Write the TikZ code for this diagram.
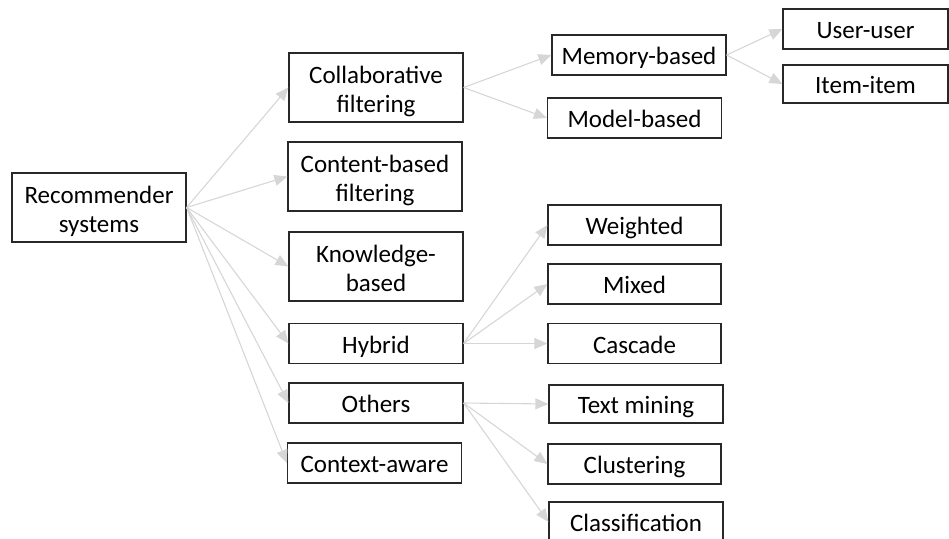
\documentclass[tikz,border=0pt]{standalone}
\usepackage{fontspec}
\setmainfont{Carlito}
\usetikzlibrary{arrows.meta}
\definecolor{edgegray}{RGB}{214,214,214}
\definecolor{boxline}{RGB}{40,40,40}
\begin{document}
\begin{tikzpicture}[x=1pt,y=-1pt,
  box/.style={draw=boxline, line width=1.2pt, fill=white, minimum height=40pt,
    minimum width=174pt, inner sep=0pt, align=center,
    text height=22pt, text depth=3pt,
    font=\fontsize{25}{29}\selectfont},
  tall/.style={box, minimum height=69pt, text height=52pt, text depth=3pt},
  link/.style={draw=edgegray, line width=1.1pt,
    -{Triangle[length=13pt,width=11pt]}}]
\useasboundingbox (0,0) rectangle (949,538);

% root
\node[tall] (rs) at (99,207.5) {Recommender\\systems};

% first level
\node[tall] (cf) at (376,87.5) {Collaborative\\filtering};
\node[tall] (cb) at (375,176.5) {Content-based\\filtering};
\node[tall] (kb) at (376,266.5) {Knowledge-\\based};
\node[box] (hy) at (376,343.5) {Hybrid};
\node[box] (ot) at (376,403) {Others};
\node[box] (ca) at (374.5,463) {Context-aware};

% collaborative filtering branch
\node[box] (mem) at (639,55) {Memory-based};
\node[box] (mod) at (634.5,118) {Model-based};
\node[box, minimum width=165pt] (uu) at (865.5,29) {User-user};
\node[box, minimum width=165pt, minimum height=38pt] (ii) at (865.5,84) {Item-item};

% hybrid branch
\node[box, minimum width=173pt] (we) at (634.5,225) {Weighted};
\node[box, minimum width=173pt] (mi) at (634.5,284) {Mixed};
\node[box, minimum width=173pt] (cs) at (634.5,343.5) {Cascade};

% others branch
\node[box, minimum height=38pt] (tm) at (636,404) {Text mining};
\node[box, minimum width=173pt] (cl) at (634.5,464) {Clustering};
\node[box] (cc) at (636,522) {Classification};

% connectors
\foreach \t in {cf,cb,kb,hy,ot,ca} \draw[link] (rs.east) -- (\t.west);
\foreach \t in {mem,mod} \draw[link] (cf.east) -- (\t.west);
\foreach \t in {uu,ii} \draw[link] (mem.east) -- (\t.west);
\foreach \t in {we,mi,cs} \draw[link] (hy.east) -- (\t.west);
\foreach \t in {tm,cl,cc} \draw[link] (ot.east) -- (\t.west);
\end{tikzpicture}
\end{document}
